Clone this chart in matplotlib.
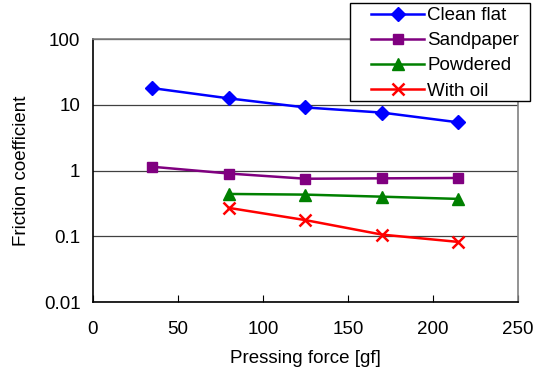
import matplotlib
matplotlib.use("Agg")
import matplotlib.pyplot as plt
from matplotlib.patches import Rectangle
from matplotlib.ticker import FixedLocator, FixedFormatter, NullLocator

plt.rcParams['font.family'] = ['Liberation Sans', 'DejaVu Sans']

# donnees
force_clean = [35, 80, 125, 170, 215]
clean_flat = [17.9, 12.5, 9.1, 7.6, 5.4]
force_sand = [35, 80, 125, 170, 215]
sandpaper = [1.14, 0.90, 0.75, 0.76, 0.77]
force_powd = [80, 125, 170, 215]
powdered = [0.44, 0.43, 0.40, 0.37]
force_oil = [80, 125, 170, 215]
with_oil = [0.27, 0.176, 0.106, 0.082]

y_ticks = [0.01, 0.1, 1, 10, 100]
y_labels = ["0.01", "0.1", "1", "10", "100"]
x_ticks = [0, 50, 100, 150, 200, 250]

fs = 13.5
W, H = 536, 381
fig = plt.figure(figsize=(W / 100, H / 100), dpi=100)
ax = fig.add_axes([0.1735, 0.2073, 0.7929, 0.6903])

lw = 1.8
l1, = ax.plot(force_clean, clean_flat, color='#0000FF', marker='D', markersize=7.5, lw=lw, label='Clean flat')
l2, = ax.plot(force_sand, sandpaper, color='#800080', marker='s', markersize=7.5, lw=lw, label='Sandpaper')
l3, = ax.plot(force_powd, powdered, color='#008000', marker='^', markersize=8.5, lw=lw, label='Powdered')
l4, = ax.plot(force_oil, with_oil, color='#FF0000', marker='x', markersize=8, mew=1.8, lw=lw, label='With oil')

ax.set_yscale('log')
ax.set_ylim(0.01, 100)
ax.set_xlim(0, 250)
ax.yaxis.set_major_locator(FixedLocator(y_ticks))
ax.yaxis.set_major_formatter(FixedFormatter(y_labels))
ax.yaxis.set_minor_locator(NullLocator())
ax.set_xticks(x_ticks)
ax.grid(axis='y', color='#404040', lw=0.9)
ax.set_axisbelow(True)

ax.tick_params(axis='x', direction='in', length=5, width=0.8, pad=14, labelsize=fs)
ax.tick_params(axis='y', length=0, pad=9, labelsize=fs)

ax.spines['left'].set_color('black')
ax.spines['bottom'].set_color('black')
ax.spines['top'].set_color('#808080')
ax.spines['right'].set_color('#808080')
for s in ax.spines.values():
    s.set_linewidth(1.2)

ax.set_xlabel('Pressing force [gf]', fontsize=fs, labelpad=8)
ax.set_ylabel('Friction coefficient', fontsize=fs, labelpad=10)

# cadre de la legende (dessine a part, comme dans Excel)
box = Rectangle((350 / W, 1 - 101 / H), 180 / W, 98 / H, transform=fig.transFigure,
                facecolor='white', edgecolor='black', lw=1.0, zorder=9)
fig.add_artist(box)

leg = fig.legend(handles=[l1, l2, l3, l4], loc='upper left',
                 bbox_to_anchor=(371 / W, 1 - 7 / H), fontsize=fs,
                 frameon=False, handlelength=2.85, handletextpad=0.15,
                 labelspacing=0.43, borderpad=0, borderaxespad=0)
leg.set_zorder(10)

fig.savefig('out.png', dpi=100)
